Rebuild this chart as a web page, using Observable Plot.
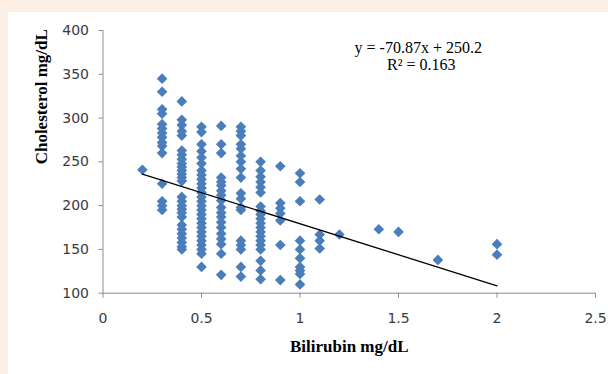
<!DOCTYPE html>
<html><head><meta charset="utf-8">
<script src="https://cdn.jsdelivr.net/npm/d3@7"></script>
<script src="https://cdn.jsdelivr.net/npm/@observablehq/plot@0.6"></script>
<style>
html,body{margin:0;padding:0}
body{background:#fcefe5;width:608px;height:374px;overflow:hidden;position:relative}
#panel{position:absolute;left:8px;top:12px;right:0;bottom:0;background:#fff}
#chart{position:absolute;left:0;top:0}
g[aria-label="equation"] text{letter-spacing:1.2px}
g[aria-label="axis-title"] text{letter-spacing:-0.3px}
</style></head><body><div id="panel"></div><div id="chart"></div>
<script>
// Bilirubin levels (mg/dL) and the cholesterol values (mg/dL) observed at each level
const bilirubinLevels = [0.2, 0.3, 0.4, 0.5, 0.6, 0.7, 0.8, 0.9, 1.0, 1.1, 1.2, 1.4, 1.5, 1.7, 2.0];
const chol02 = [241];
const chol03 = [345, 330, 310, 305, 293, 288, 283, 278, 272, 268, 260, 225, 205, 200, 195];
const chol04 = [319, 298, 292, 285, 280, 263, 258, 253, 248, 244, 240, 236, 232, 228, 210, 205, 200, 196, 192, 187, 178, 173, 168, 163, 158, 153, 150];
const chol05 = [290, 284, 270, 262, 255, 248, 240, 235, 230, 225, 220, 215, 210, 205, 200, 195, 190, 185, 180, 175, 170, 165, 160, 155, 150, 145, 130];
const chol06 = [291, 270, 260, 232, 227, 223, 217, 212, 206, 198, 192, 187, 181, 175, 168, 162, 156, 145, 121];
const chol07 = [290, 285, 280, 270, 265, 257, 250, 242, 232, 214, 208, 198, 195, 160, 155, 150, 130, 119];
const chol08 = [250, 240, 233, 227, 221, 215, 199, 194, 190, 185, 180, 175, 170, 165, 160, 155, 150, 137, 126, 116];
const chol09 = [245, 203, 197, 191, 183, 155, 115];
const chol10 = [237, 227, 205, 160, 150, 140, 130, 126, 122, 110];
const chol11 = [207, 167, 160, 151];
const chol12 = [167];
const chol14 = [173];
const chol15 = [170];
const chol17 = [138];
const chol20 = [156, 144];
const cholesterolByLevel = [chol02, chol03, chol04, chol05, chol06, chol07, chol08, chol09, chol10, chol11, chol12, chol14, chol15, chol17, chol20];

// Trendline reported on the chart
const trendSlope = -70.87;
const trendIntercept = 250.2;
const trendRange = [0.2, 2.0];
const equationText = "y = -70.87x + 250.2";
const r2Text = "R² = 0.163";

const xTicks = [0, 0.5, 1, 1.5, 2, 2.5];
const yTicks = [100, 150, 200, 250, 300, 350, 400];
const xTitle = "Bilirubin mg/dL";
const yTitle = "Cholesterol mg/dL";

const points = bilirubinLevels.flatMap((b, i) => cholesterolByLevel[i].map(c => ({bilirubin: b, cholesterol: c})));
const trend = trendRange.map(x => ({x, y: trendSlope * x + trendIntercept}));

const axisColor = "#8c8c8c";
const tickFont = "DejaVu Sans";

const chart = Plot.plot({
  width: 608,
  height: 374,
  marginLeft: 102.5,
  marginRight: 13,
  marginTop: 30,
  marginBottom: 81.3,
  style: {background: "transparent", color: "#000", overflow: "visible"},
  x: {domain: [0, 2.5]},
  y: {domain: [100, 400]},
  marks: [
    Plot.ruleY([100], {stroke: axisColor, strokeWidth: 1}),
    Plot.ruleX([0], {stroke: axisColor, strokeWidth: 1}),
    Plot.axisX({ticks: xTicks, tickSize: 5, tickPadding: 15, stroke: axisColor, label: null,
      fontFamily: tickFont, fontSize: 14, fill: "#3a3a3a", tickFormat: d => String(d)}),
    Plot.axisY({ticks: yTicks, tickSize: 4, tickPadding: 10, stroke: axisColor, label: null,
      fontFamily: tickFont, fontSize: 14, fill: "#3a3a3a"}),
    Plot.dot(points, {x: "bilirubin", y: "cholesterol", symbol: "diamond2", r: 4.8, fill: "#4a7ebb", stroke: "none"}),
    Plot.line(trend, {x: "x", y: "y", stroke: "#000", strokeWidth: 1.3}),
    Plot.text([equationText], {text: d => d, frameAnchor: "top", dx: 69, dy: 11, fontFamily: "Liberation Serif", fontSize: 16, fill: "#000", ariaLabel: "equation"}),
    Plot.text([r2Text], {text: d => d, frameAnchor: "top", dx: 72, dy: 28, fontFamily: "Liberation Serif", fontSize: 16, fill: "#000", ariaLabel: "equation"}),
    Plot.text([xTitle], {text: d => d, frameAnchor: "bottom", dy: 59, fontFamily: "Liberation Serif", fontWeight: "bold", fontSize: 17, fill: "#000", ariaLabel: "axis-title"}),
    Plot.text([yTitle], {text: d => d, frameAnchor: "left", dx: -61.5, dy: 2.5, rotate: -90, fontFamily: "Liberation Serif", fontWeight: "bold", fontSize: 17, fill: "#000", ariaLabel: "axis-title"})
  ]
});
document.getElementById("chart").appendChild(chart);
</script>
</body></html>
